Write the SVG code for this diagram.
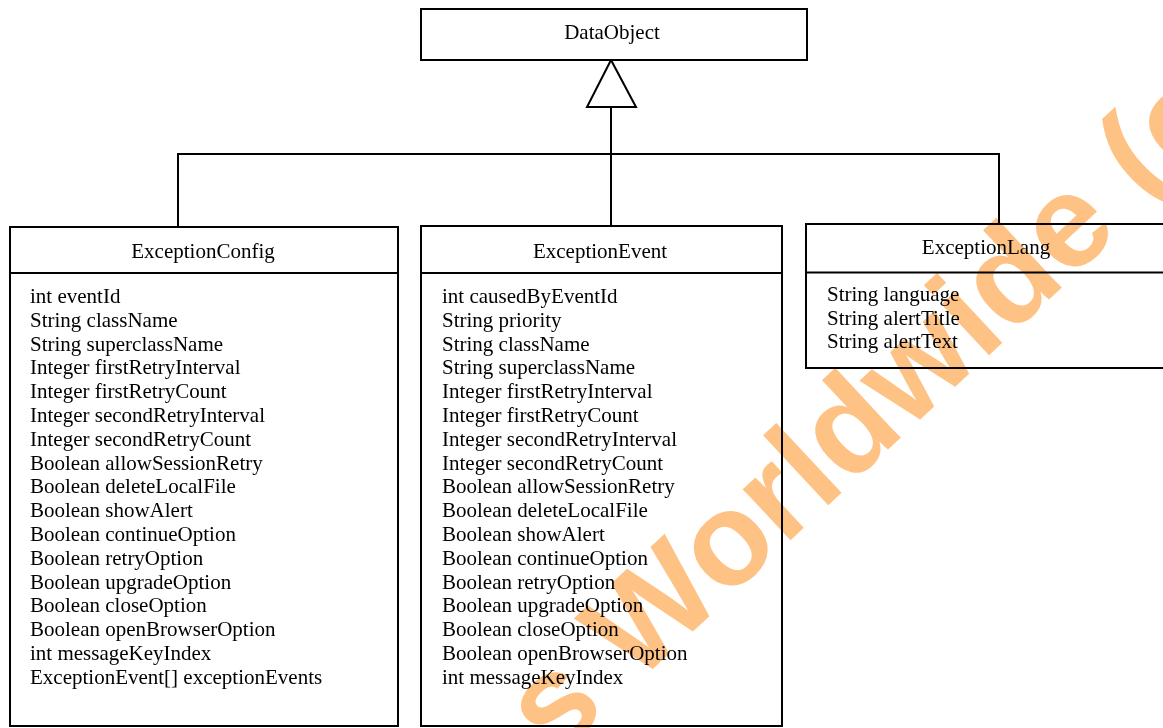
<svg xmlns="http://www.w3.org/2000/svg" width="1163" height="728" viewBox="0 0 1163 728">
<style>
.box{fill:#fff;stroke:#000;stroke-width:2}
.ln{fill:none;stroke:#000;stroke-width:2}
.t{font-family:"Liberation Serif","DejaVu Serif",serif;font-size:21px;fill:#000}
.c{text-anchor:middle}
.wm{font-family:"Liberation Sans",Arial,sans-serif;font-weight:bold;font-size:132px;fill:#ffc285;mix-blend-mode:multiply}
</style>
<rect width="1163" height="728" fill="#fff"/>
<g id="connectors">
<polyline class="ln" points="178,227 178,154 999,154 999,224"/>
<line class="ln" x1="611" y1="107" x2="611" y2="226"/>
<polygon class="ln" points="611,60 587,107 636,107" fill="#fff"/>
</g>
<g id="DataObject">
<rect class="box" x="421" y="9" width="386" height="51"/>
<text class="t c" x="612" y="39">DataObject</text>
</g>
<g id="ExceptionConfig">
<rect class="box" x="10" y="227" width="388" height="499"/>
<line class="ln" x1="10" y1="273" x2="398" y2="273"/>
<text class="t c" x="203" y="258">ExceptionConfig</text>
<text class="t" x="30" y="303">int eventId</text>
<text class="t" x="30" y="326.8">String className</text>
<text class="t" x="30" y="350.6">String superclassName</text>
<text class="t" x="30" y="374.4">Integer firstRetryInterval</text>
<text class="t" x="30" y="398.2">Integer firstRetryCount</text>
<text class="t" x="30" y="422">Integer secondRetryInterval</text>
<text class="t" x="30" y="445.8">Integer secondRetryCount</text>
<text class="t" x="30" y="469.6">Boolean allowSessionRetry</text>
<text class="t" x="30" y="493.4">Boolean deleteLocalFile</text>
<text class="t" x="30" y="517.2">Boolean showAlert</text>
<text class="t" x="30" y="541">Boolean continueOption</text>
<text class="t" x="30" y="564.8">Boolean retryOption</text>
<text class="t" x="30" y="588.6">Boolean upgradeOption</text>
<text class="t" x="30" y="612.4">Boolean closeOption</text>
<text class="t" x="30" y="636.2">Boolean openBrowserOption</text>
<text class="t" x="30" y="660">int messageKeyIndex</text>
<text class="t" x="30" y="683.8">ExceptionEvent[] exceptionEvents</text>
</g>
<g id="ExceptionEvent">
<rect class="box" x="421" y="226" width="361" height="500"/>
<line class="ln" x1="421" y1="273" x2="782" y2="273"/>
<text class="t c" x="600" y="258">ExceptionEvent</text>
<text class="t" x="442" y="303">int causedByEventId</text>
<text class="t" x="442" y="326.8">String priority</text>
<text class="t" x="442" y="350.6">String className</text>
<text class="t" x="442" y="374.4">String superclassName</text>
<text class="t" x="442" y="398.2">Integer firstRetryInterval</text>
<text class="t" x="442" y="422">Integer firstRetryCount</text>
<text class="t" x="442" y="445.8">Integer secondRetryInterval</text>
<text class="t" x="442" y="469.6">Integer secondRetryCount</text>
<text class="t" x="442" y="493.4">Boolean allowSessionRetry</text>
<text class="t" x="442" y="517.2">Boolean deleteLocalFile</text>
<text class="t" x="442" y="541">Boolean showAlert</text>
<text class="t" x="442" y="564.8">Boolean continueOption</text>
<text class="t" x="442" y="588.6">Boolean retryOption</text>
<text class="t" x="442" y="612.4">Boolean upgradeOption</text>
<text class="t" x="442" y="636.2">Boolean closeOption</text>
<text class="t" x="442" y="660">Boolean openBrowserOption</text>
<text class="t" x="442" y="683.8">int messageKeyIndex</text>
</g>
<g id="ExceptionLang">
<rect class="box" x="806" y="224" width="370" height="144"/>
<line class="ln" x1="806" y1="272.5" x2="1163" y2="272.5"/>
<text class="t c" x="986" y="254">ExceptionLang</text>
<text class="t" x="827" y="301">String language</text>
<text class="t" x="827" y="324.5">String alertTitle</text>
<text class="t" x="827" y="348">String alertText</text>
</g>
<text class="wm" transform="translate(555,760) rotate(-43)">s Worldwide (c)</text>
</svg>
